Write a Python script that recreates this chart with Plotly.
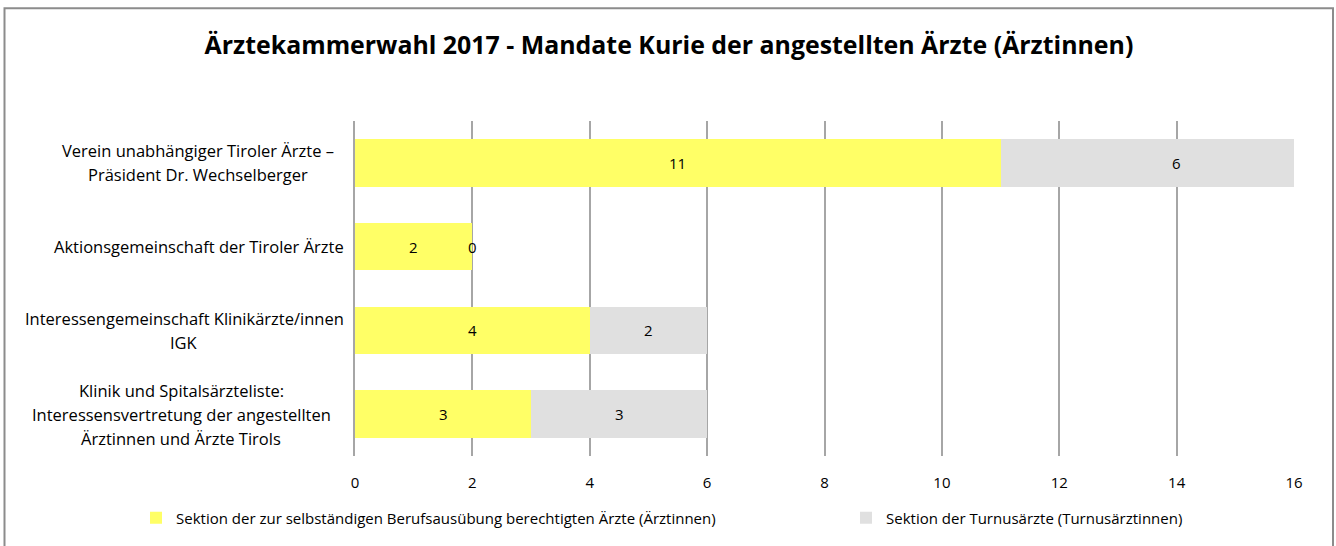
import plotly.graph_objects as go

categories = [
    "Verein unabhängiger Tiroler Ärzte –<br>Präsident Dr. Wechselberger",
    "Aktionsgemeinschaft der Tiroler Ärzte",
    "Interessengemeinschaft Klinikärzte/innen<br>IGK",
    "Klinik und Spitalsärzteliste:<br>Interessensvertretung der angestellten<br>Ärztinnen und Ärzte Tirols",
]
series_names = [
    "Sektion der zur selbständigen Berufsausübung berechtigten Ärzte (Ärztinnen)",
    "Sektion der Turnusärzte (Turnusärztinnen)",
]
selbst = [11, 2, 4, 3]
turnus = [6, 0, 2, 3]
x_ticks = [0, 2, 4, 6, 8, 10, 12, 14, 16]
title = "Ärztekammerwahl 2017 - Mandate Kurie der angestellten Ärzte (Ärztinnen)"

colors = ["#FFFF66", "#E0E0E0"]
FONT = "Open Sans"

W, H = 1336, 546
ML, MR, MT, MB = 355, 42, 121, 85
PW, PH = W - ML - MR, H - MT - MB


def px2paper_x(px):
    return (px - ML) / PW


def px2paper_y(py):
    return (H - MB - py) / PH


fig = go.Figure()
for name, vals, col, lg in zip(series_names, [selbst, turnus], colors, ["legend", "legend2"]):
    fig.add_trace(go.Bar(
        y=categories, x=vals, name=name, orientation="h", legend=lg, showlegend=True,
        marker=dict(color=col, line=dict(width=0)),
    ))

annotations = []
# data labels
for i, cat in enumerate(categories):
    annotations.append(dict(x=selbst[i] / 2, y=cat, xref="x", yref="y", text=str(selbst[i]),
                            showarrow=False, font=dict(family=FONT, size=15, color="#000")))
    annotations.append(dict(x=selbst[i] + turnus[i] / 2, y=cat, xref="x", yref="y", text=str(turnus[i]),
                            showarrow=False, font=dict(family=FONT, size=15, color="#000")))

# category labels: centered lines, one annotation per line for Excel-like line spacing
LINE = 24
block_centers = [198, 198.5, 184, 181]
for ci, cat in enumerate(categories):
    lines = cat.split("<br>")
    n = len(lines)
    for k, ln in enumerate(lines):
        annotations.append(dict(x=0, y=cat, xref="paper", yref="y", text=ln, xanchor="center",
                                xshift=block_centers[ci] - ML, yshift=((n - 1) / 2 - k) * LINE,
                                showarrow=False, font=dict(family=FONT, size=16.5, color="#000")))

legend_common = dict(orientation="h", xanchor="left", yanchor="middle",
                     y=px2paper_y(524), font=dict(family=FONT, size=15, color="#000"),
                     bgcolor="rgba(0,0,0,0)")

fig.update_layout(
    width=W, height=H, showlegend=True,
    margin=dict(l=ML, r=MR, t=MT, b=MB),
    paper_bgcolor="white", plot_bgcolor="white",
    barmode="stack", bargap=0.435,
    font=dict(family=FONT, size=14, color="#000"),
    title=dict(text="<b>" + title + "</b>", x=px2paper_x(669), xref="paper", xanchor="center",
               y=1 - 45 / H, yanchor="middle", font=dict(family=FONT, size=24.9, color="#000")),
    xaxis=dict(range=[0, 16], tickvals=x_ticks, showgrid=True, gridcolor="#A6A6A6", gridwidth=2,
               zeroline=False, showline=False, ticks="", ticklabelstandoff=16,
               tickfont=dict(family=FONT, size=15, color="#000")),
    yaxis=dict(categoryorder="array", categoryarray=categories, autorange="reversed",
               showticklabels=False, showgrid=False, zeroline=False,
               showline=True, linecolor="#A6A6A6", linewidth=2),
    legend=dict(x=px2paper_x(136), **legend_common),
    legend2=dict(x=px2paper_x(846), **legend_common),
    annotations=annotations,
    shapes=[dict(type="rect", xref="paper", yref="paper",
                 x0=px2paper_x(4.5), x1=px2paper_x(1333), y0=px2paper_y(560), y1=px2paper_y(6.5),
                 line=dict(color="#8C8C8C", width=2), fillcolor="rgba(0,0,0,0)", layer="below")],
)

fig.write_html("out.html")
